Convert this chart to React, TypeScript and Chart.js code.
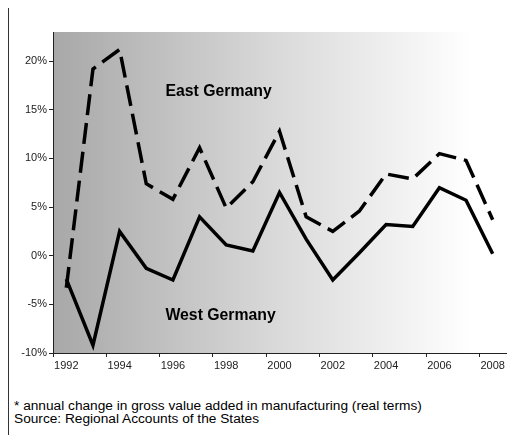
import React, { useEffect, useRef } from "react";
import { Chart, registerables } from "chart.js";

Chart.register(...registerables);

const years = ["1992","1993","1994","1995","1996","1997","1998","1999","2000","2001","2002","2003","2004","2005","2006","2007","2008"];
const eastGermany = [-3.3, 19.2, 21.2, 7.4, 5.8, 11.1, 4.9, 7.6, 12.8, 4.0, 2.5, 4.6, 8.4, 7.9, 10.5, 9.8, 3.7];
const westGermany = [-2.4, -9.2, 2.5, -1.3, -2.5, 4.0, 1.1, 0.5, 6.5, 1.7, -2.5, 0.3, 3.2, 3.0, 7.0, 5.7, 0.2];
const seriesLabels = ["East Germany", "West Germany"];
const labelXIndex = [3.72, 3.72];
const labelYValue = [16.4, -6.6];
const yTickValues = [-10, -5, 0, 5, 10, 15, 20];
const footnoteLines = [
  "* annual change in gross value added in manufacturing (real terms)",
  "Source: Regional Accounts of the States",
];

const FONT = "'Liberation Sans', Arial, sans-serif";

const gradientPlugin = {
  id: "bgGradient",
  beforeDraw(chart: any) {
    const { ctx, chartArea } = chart;
    if (!chartArea) return;
    const { left, top, right, bottom } = chartArea;
    const g = ctx.createLinearGradient(left, 0, right, 0);
    g.addColorStop(0, "#a8a8a8");
    g.addColorStop(0.5, "#dadada");
    g.addColorStop(0.925, "#ffffff");
    g.addColorStop(1, "#ffffff");
    ctx.save();
    ctx.fillStyle = g;
    ctx.fillRect(left, top, right - left, bottom - top);
    ctx.restore();
  },
};

const labelsPlugin = {
  id: "seriesLabels",
  afterDatasetsDraw(chart: any) {
    const { ctx } = chart;
    const xs = chart.scales.x;
    const ys = chart.scales.y;
    ctx.save();
    ctx.fillStyle = "#000";
    ctx.font = `bold 15.8px ${FONT}`;
    ctx.textAlign = "left";
    ctx.textBaseline = "alphabetic";
    seriesLabels.forEach((t, i) => {
      ctx.fillText(t, xs.getPixelForValue(labelXIndex[i]), ys.getPixelForValue(labelYValue[i]));
    });
    ctx.restore();
  },
};

export default function App() {
  const ref = useRef<HTMLCanvasElement>(null);
  useEffect(() => {
    if (!ref.current) return;
    const chart = new Chart(ref.current, {
      type: "line",
      data: {
        labels: years,
        datasets: [
          {
            label: seriesLabels[0],
            data: eastGermany,
            borderColor: "#000",
            borderWidth: 3.5,
            borderDash: [21, 8],
            pointRadius: 0,
            tension: 0,
            fill: false,
          },
          {
            label: seriesLabels[1],
            data: westGermany,
            borderColor: "#000",
            borderWidth: 3.5,
            pointRadius: 0,
            tension: 0,
            fill: false,
          },
        ],
      },
      options: {
        animation: false,
        responsive: false,
        maintainAspectRatio: false,
        devicePixelRatio: 1,
        layout: { padding: { left: 0, top: 24, right: 13, bottom: 0 } },
        plugins: { legend: { display: false }, tooltip: { enabled: false } },
        scales: {
          x: {
            type: "category",
            offset: true,
            afterFit: (s: any) => { s.height = 17; },
            grid: {
              offset: true,
              drawOnChartArea: false,
              drawTicks: true,
              tickLength: 4,
              tickColor: (c: any) => (c.index % 2 === 0 ? "#222" : "rgba(0,0,0,0)"),
            },
            border: { display: true, color: "#222", width: 1 },
            ticks: {
              autoSkip: false,
              maxRotation: 0,
              padding: 2,
              color: "#222",
              font: { family: FONT, size: 11 },
              callback: (_v: any, i: number) => (i % 2 === 0 ? years[i] : ""),
            },
          },
          y: {
            min: -10,
            max: 23,
            afterFit: (s: any) => { s.width = 44; },
            afterBuildTicks: (s: any) => { s.ticks = yTickValues.map((v) => ({ value: v })); },
            grid: { drawOnChartArea: false, drawTicks: true, tickLength: 4, tickColor: "#222" },
            border: { display: true, color: "#222", width: 1 },
            ticks: {
              padding: 2,
              color: "#222",
              font: { family: FONT, size: 11 },
              callback: (v: any) => `${v}%`,
            },
          },
        },
      },
      plugins: [gradientPlugin, labelsPlugin],
    });
    return () => chart.destroy();
  }, []);

  return (
    <div
      style={{
        position: "relative",
        marginTop: -1,
        width: 515,
        height: 430,
        borderTop: "1px solid #333",
        borderLeft: "1px solid #333",
        background: "#fff",
        overflow: "hidden",
      }}
    >
      <canvas ref={ref} width={510} height={362} style={{ position: "absolute", left: 0, top: 0, width: 510, height: 362 }} />
      <div
        style={{
          position: "absolute",
          left: 5,
          top: 391,
          fontFamily: FONT,
          fontSize: 13.7,
          lineHeight: "13px",
          color: "#000",
          whiteSpace: "nowrap",
        }}
      >
        {footnoteLines.map((l, i) => (
          <div key={i}>{l}</div>
        ))}
      </div>
    </div>
  );
}
